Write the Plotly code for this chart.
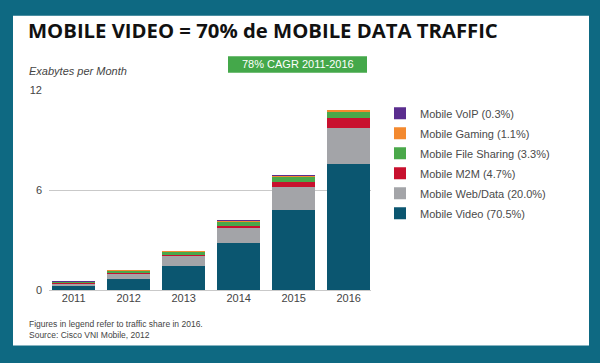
import plotly.graph_objects as go

years = ["2011", "2012", "2013", "2014", "2015", "2016"]
video = [0.23, 0.66, 1.47, 2.83, 4.82, 7.59]
web = [0.16, 0.34, 0.56, 0.89, 1.39, 2.18]
m2m = [0.02, 0.04, 0.10, 0.15, 0.29, 0.55]
file_sharing = [0.08, 0.12, 0.17, 0.23, 0.28, 0.36]
gaming = [0.03, 0.06, 0.06, 0.08, 0.10, 0.13]
voip = [0.01, 0.02, 0.02, 0.02, 0.03, 0.04]

series = [
    ("Mobile Video (70.5%)", video, "#0b5670"),
    ("Mobile Web/Data (20.0%)", web, "#a3a4a8"),
    ("Mobile M2M (4.7%)", m2m, "#c8102e"),
    ("Mobile File Sharing (3.3%)", file_sharing, "#4aa84a"),
    ("Mobile Gaming (1.1%)", gaming, "#f3892f"),
    ("Mobile VoIP (0.3%)", voip, "#5a2d8e"),
]

W, H = 600, 363


def px(x):
    return x / W


def py(y):
    return (H - y) / H


fig = go.Figure()
for i, (name, vals, col) in enumerate(series):
    fig.add_trace(go.Bar(
        x=years, y=vals, name=name, marker=dict(color=col, line=dict(width=0)),
        legendgroup=f"g{i}", legendrank=len(series) - i,
    ))

TXT = "Liberation Sans, Arial, sans-serif"

fig.update_layout(
    width=W, height=H,
    margin=dict(l=0, r=0, t=0, b=0),
    paper_bgcolor="#0e6982",
    plot_bgcolor="rgba(0,0,0,0)",
    barmode="stack",
    bargap=0.227,
    hovermode=False,
    showlegend=True,
    legend=dict(
        x=px(380), y=py(96), xanchor="left", yanchor="top",
        traceorder="grouped", tracegroupgap=1,
        font=dict(family=TXT, size=11, color="#4a4a4a"),
        bgcolor="rgba(0,0,0,0)", itemclick=False,
    ),
    xaxis=dict(
        domain=[px(49), px(371)], range=[-0.449, 5.405],
        showgrid=False, zeroline=False, showline=False, ticks="",
        tickfont=dict(family=TXT, size=11, color="#444444"),
        fixedrange=True,
    ),
    yaxis=dict(
        domain=[py(294), py(87.3)], range=[0, 12],
        tickvals=[0, 6, 12], ticktext=["0", "6", "12"],
        showgrid=True, gridcolor="#c9c9c9", gridwidth=1,
        zeroline=True, zerolinecolor="#c9c9c9", zerolinewidth=1,
        showline=False, ticks="", ticklabelstandoff=6,
        tickfont=dict(family=TXT, size=11, color="#444444"),
        fixedrange=True,
    ),
    shapes=[
        dict(type="rect", xref="paper", yref="paper",
             x0=px(13), x1=px(589), y0=py(351), y1=py(10),
             fillcolor="white", line=dict(width=0), layer="below"),
        dict(type="rect", xref="paper", yref="paper",
             x0=px(228), x1=px(367), y0=py(69), y1=py(52),
             fillcolor="#44a84a", line=dict(width=0), layer="above"),
    ],
    annotations=[
        dict(text="<b>MOBILE VIDEO = 70% de MOBILE DATA TRAFFIC</b>",
             xref="paper", yref="paper", x=px(26), y=py(25),
             xanchor="left", yanchor="middle", showarrow=False,
             font=dict(family="Open Sans, sans-serif", size=20.3, color="#111111")),
        dict(text="78% CAGR 2011-2016", xref="paper", yref="paper",
             x=px(297.5), y=py(60.5), xanchor="center", yanchor="middle",
             showarrow=False, font=dict(family=TXT, size=11, color="white")),
        dict(text="<i>Exabytes per Month</i>", xref="paper", yref="paper",
             x=px(27), y=py(67), xanchor="left", yanchor="middle",
             showarrow=False, font=dict(family=TXT, size=11, color="#444444")),
        dict(text="Figures in legend refer to traffic share in 2016.<br>Source: Cisco VNI Mobile, 2012",
             xref="paper", yref="paper", x=px(27), y=py(335),
             xanchor="left", yanchor="middle", align="left", showarrow=False,
             font=dict(family=TXT, size=8.5, color="#444444")),
    ],
)

fig.write_html(
    "out.html",
    config={"displayModeBar": False, "staticPlot": True},
    post_script="document.body.style.margin='0';document.body.style.overflow='hidden';",
)
